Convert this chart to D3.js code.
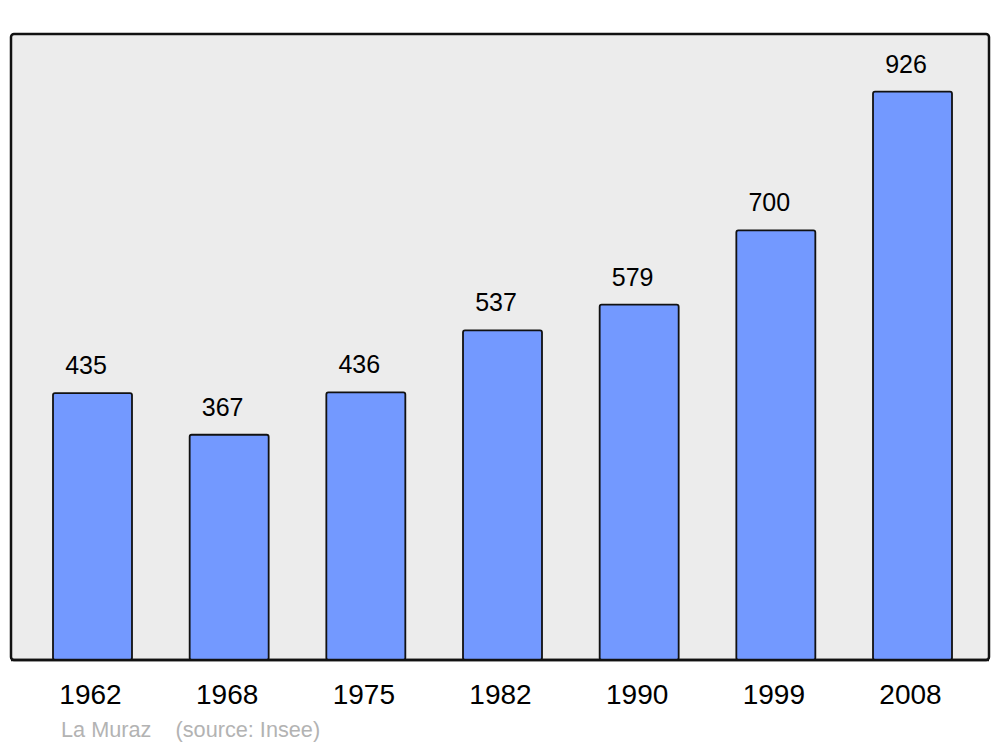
<!DOCTYPE html>
<html><head><meta charset="utf-8">
<script src="https://cdn.jsdelivr.net/npm/d3@7"></script>
<style>body{margin:0;background:#fff}svg{display:block}</style>
</head><body>
<script>
const years = ["1962","1968","1975","1982","1990","1999","2008"];
const population = [435,367,436,537,579,700,926];
const caption = "La Muraz    (source: Insee)";

const W=1000,H=747;
const svg=d3.select("body").append("svg").attr("width",W).attr("height",H);
const frame={x:11,y:34,w:978,h:626};
svg.append("rect").attr("x",frame.x).attr("y",frame.y).attr("width",frame.w).attr("height",frame.h)
  .attr("rx",3).attr("fill","#ececec").attr("stroke","#111").attr("stroke-width",2.5);

const x=d3.scaleBand().domain(years).range([53,952]).paddingInner(0.422).paddingOuter(0);
const y=d3.scaleLinear().domain([0,1020]).range([660,34]);

svg.selectAll("rect.bar").data(population).enter().append("rect").attr("class","bar")
  .attr("x",(d,i)=>x(years[i])).attr("y",d=>y(d)).attr("width",x.bandwidth()).attr("height",d=>660-y(d))
  .attr("rx",2).attr("fill","#7399ff").attr("stroke","#111").attr("stroke-width",1.8);

svg.append("line").attr("x1",frame.x).attr("x2",frame.x+frame.w).attr("y1",660).attr("y2",660)
  .attr("stroke","#111").attr("stroke-width",2.5);

svg.selectAll("text.val").data(population).enter().append("text").attr("class","val")
  .attr("x",(d,i)=>x(years[i])+x.bandwidth()/2-6.5).attr("y",d=>y(d)-19)
  .attr("text-anchor","middle").attr("font-family","Liberation Sans, Arial, sans-serif")
  .attr("font-size",25).attr("fill","#000").text(d=>d);

svg.selectAll("text.yr").data(years).enter().append("text").attr("class","yr")
  .attr("x",d=>x(d)+x.bandwidth()/2-2).attr("y",704)
  .attr("text-anchor","middle").attr("font-family","Liberation Sans, Arial, sans-serif")
  .attr("font-size",28).attr("fill","#000").text(d=>d);

svg.append("text").attr("x",61).attr("y",737).attr("xml:space","preserve").style("white-space","pre")
  .attr("font-family","Liberation Sans, Arial, sans-serif").attr("font-size",21.7).attr("fill","#b3b3b3")
  .text(caption);
</script>
</body></html>
